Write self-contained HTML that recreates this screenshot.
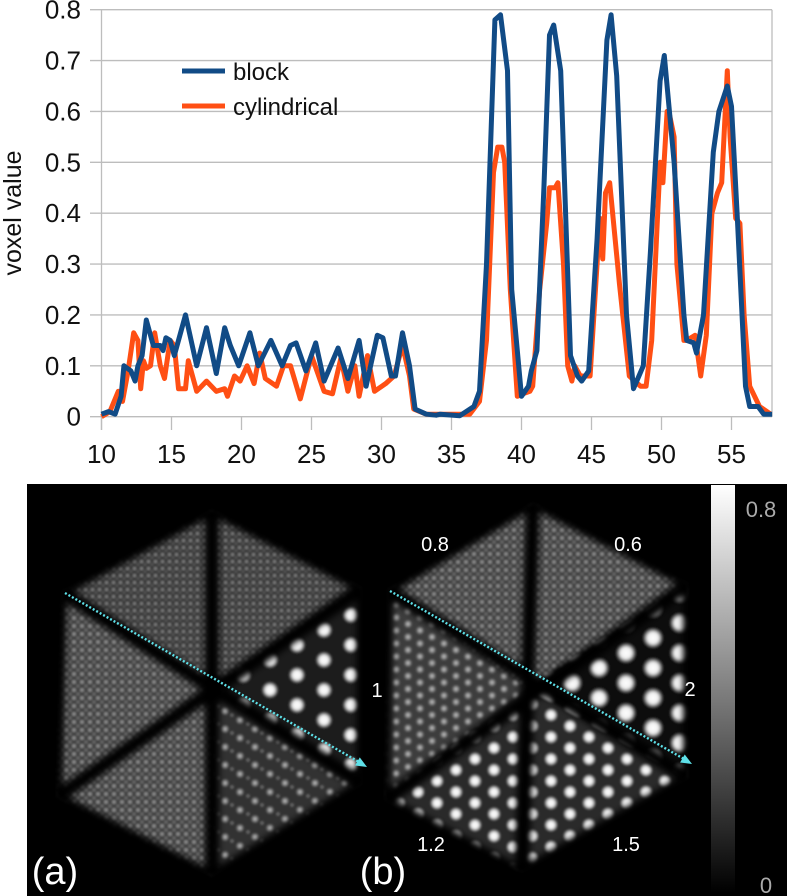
<!DOCTYPE html>
<html><head><meta charset="utf-8"><style>
html,body{margin:0;padding:0;background:#fff;width:787px;height:896px;overflow:hidden}
svg{display:block}
text{font-family:"Liberation Sans",sans-serif}
</style></head><body>
<svg id="fig" width="787" height="896" viewBox="0 0 787 896">
<defs>
 <radialGradient id="rg"><stop offset="0" stop-color="#fff"/><stop offset="0.55" stop-color="#eee"/><stop offset="1" stop-color="#fff" stop-opacity="0"/></radialGradient>
 <radialGradient id="rg2"><stop offset="0" stop-color="#ddd"/><stop offset="1" stop-color="#ddd" stop-opacity="0"/></radialGradient>
 <pattern id="pNoise" patternUnits="userSpaceOnUse" width="7" height="7">
  <rect width="7" height="7" fill="#333"/><circle cx="1.5" cy="1.5" r="1.6" fill="#8a8a8a"/><circle cx="5" cy="4.5" r="1.3" fill="#666"/>
 </pattern>
 <pattern id="pNoise2" patternUnits="userSpaceOnUse" width="8" height="8">
  <rect width="8" height="8" fill="#3e3e3e"/><circle cx="2" cy="2" r="1.8" fill="#9a9a9a"/><circle cx="6" cy="6" r="1.5" fill="#777"/>
 </pattern>
 <pattern id="pBigA" patternUnits="userSpaceOnUse" width="54" height="30">
  <rect width="54" height="30" fill="#1a1a1a"/>
  <circle cx="0" cy="0" r="8" fill="url(#rg)"/><circle cx="54" cy="0" r="8" fill="url(#rg)"/><circle cx="0" cy="30" r="8" fill="url(#rg)"/><circle cx="54" cy="30" r="8" fill="url(#rg)"/><circle cx="27" cy="15" r="8" fill="url(#rg)"/>
 </pattern>
 <pattern id="pBigB" patternUnits="userSpaceOnUse" width="54" height="30" x="5" y="8">
  <rect width="54" height="30" fill="#111"/>
  <circle cx="0" cy="0" r="10" fill="url(#rg)"/><circle cx="54" cy="0" r="10" fill="url(#rg)"/><circle cx="0" cy="30" r="10" fill="url(#rg)"/><circle cx="54" cy="30" r="10" fill="url(#rg)"/><circle cx="27" cy="15" r="10" fill="url(#rg)"/>
 </pattern>
 <pattern id="pMidA" patternUnits="userSpaceOnUse" width="30" height="18">
  <rect width="30" height="18" fill="#333"/><circle cx="0" cy="0" r="4" fill="url(#rg2)"/><circle cx="30" cy="0" r="4" fill="url(#rg2)"/><circle cx="0" cy="18" r="4" fill="url(#rg2)"/><circle cx="30" cy="18" r="4" fill="url(#rg2)"/><circle cx="15" cy="9" r="4" fill="url(#rg2)"/>
  <circle cx="8" cy="4" r="1.2" fill="#888"/><circle cx="22" cy="13" r="1.2" fill="#888"/>
 </pattern>
 <pattern id="pMidB" patternUnits="userSpaceOnUse" width="38" height="22">
  <rect width="38" height="22" fill="#2a2a2a"/><circle cx="0" cy="0" r="6.5" fill="url(#rg)"/><circle cx="38" cy="0" r="6.5" fill="url(#rg)"/><circle cx="0" cy="22" r="6.5" fill="url(#rg)"/><circle cx="38" cy="22" r="6.5" fill="url(#rg)"/><circle cx="19" cy="11" r="6.5" fill="url(#rg)"/>
 </pattern>
 <pattern id="pSmallB" patternUnits="userSpaceOnUse" width="24" height="13">
  <rect width="24" height="13" fill="#3c3c3c"/><circle cx="0" cy="0" r="4" fill="url(#rg2)"/><circle cx="24" cy="0" r="4" fill="url(#rg2)"/><circle cx="0" cy="13" r="4" fill="url(#rg2)"/><circle cx="24" cy="13" r="4" fill="url(#rg2)"/><circle cx="12" cy="6.5" r="4" fill="url(#rg2)"/>
 </pattern>
 <filter id="soft" x="-5%" y="-5%" width="110%" height="110%"><feGaussianBlur stdDeviation="1.2"/></filter>
 <filter id="gapblur" x="-10%" y="-10%" width="120%" height="120%"><feGaussianBlur stdDeviation="3.5"/></filter>
 <linearGradient id="cbar" x1="0" y1="0" x2="0" y2="1"><stop offset="0" stop-color="#fff"/><stop offset="1" stop-color="#000"/></linearGradient>
</defs>
<g id="chart"></g>
<g id="images"></g>
</svg>
<script>
const ticksY = [0, 0.1, 0.2, 0.3, 0.4, 0.5, 0.6, 0.7, 0.8];
const ticksX = [10, 15, 20, 25, 30, 35, 40, 45, 50, 55];
const blockX = [10,10.5,10.97,11.4,11.6,12.1,12.4,12.6,12.9,13.2,13.7,14.2,14.4,14.6,14.9,15.2,16.0,16.8,17.5,18.2,18.8,19.2,19.8,20.6,21.2,22.1,22.9,23.5,23.9,24.6,25.3,25.9,26.9,27.6,28.4,28.9,29.7,30.1,30.7,31.0,31.5,32.0,32.4,33.2,33.9,34.2,35.6,36.6,37.0,37.5,38.1,38.5,39.0,39.3,40.0,40.5,40.7,41.1,41.6,42.0,42.3,42.8,43.5,44.0,44.3,44.8,45.4,46.1,46.4,46.8,47.5,48.0,48.7,49.2,49.9,50.2,50.9,51.6,51.8,52.3,52.5,53.0,53.7,54.1,54.7,55.0,55.4,56.0,56.3,56.9,57.3,57.9];
const blockV = [0.005,0.01,0.005,0.04,0.1,0.09,0.07,0.1,0.12,0.19,0.14,0.14,0.13,0.155,0.15,0.12,0.2,0.1,0.175,0.085,0.175,0.14,0.1,0.165,0.1,0.15,0.1,0.14,0.145,0.09,0.145,0.07,0.135,0.075,0.15,0.06,0.16,0.155,0.08,0.08,0.165,0.1,0.015,0.005,0.003,0.005,0.002,0.02,0.05,0.3,0.78,0.79,0.68,0.25,0.04,0.06,0.09,0.13,0.45,0.75,0.77,0.68,0.12,0.08,0.07,0.09,0.35,0.74,0.79,0.67,0.2,0.055,0.1,0.32,0.66,0.71,0.5,0.2,0.15,0.145,0.125,0.2,0.52,0.6,0.65,0.61,0.4,0.06,0.02,0.02,0.005,0.005];
const cylX = [10,10.6,11.2,11.5,11.9,12.3,12.6,12.8,13.0,13.2,13.5,13.8,14.2,14.5,14.9,15.2,15.5,16.0,16.2,16.8,17.5,18.2,18.8,19.0,19.5,19.9,20.4,20.9,21.3,21.7,22.5,23.0,23.5,24.2,25.0,25.9,26.5,27.1,27.6,28.1,28.4,29.0,29.5,30.3,30.9,31.5,32.0,32.3,33.2,36.3,37.0,37.5,38.0,38.3,38.6,38.8,39.2,39.7,40.1,40.6,40.8,41.3,41.8,42.0,42.4,42.6,43.0,43.3,43.6,43.8,44.2,44.9,45.6,45.8,46.0,46.3,47.0,47.7,48.5,48.9,49.3,49.9,50.1,50.4,50.6,50.9,51.1,51.6,51.8,52.4,52.8,53.2,53.6,54.0,54.3,54.7,54.9,55.3,55.6,55.9,56.3,57.0,57.8];
const cylV = [0,0.01,0.05,0.03,0.09,0.165,0.15,0.055,0.11,0.095,0.1,0.165,0.1,0.075,0.15,0.14,0.055,0.055,0.11,0.05,0.07,0.05,0.055,0.04,0.08,0.07,0.1,0.065,0.125,0.075,0.06,0.1,0.1,0.035,0.12,0.05,0.045,0.115,0.05,0.1,0.04,0.12,0.05,0.065,0.08,0.14,0.08,0.015,0.005,0.005,0.03,0.15,0.48,0.53,0.53,0.5,0.25,0.04,0.045,0.05,0.06,0.25,0.38,0.45,0.45,0.46,0.3,0.1,0.07,0.1,0.08,0.08,0.39,0.31,0.44,0.46,0.26,0.08,0.06,0.06,0.15,0.5,0.46,0.6,0.59,0.55,0.3,0.15,0.15,0.16,0.08,0.16,0.4,0.44,0.46,0.68,0.55,0.39,0.38,0.2,0.06,0.02,0.005];

const NS='http://www.w3.org/2000/svg';
function X(v){return 101.5+(v-10)*14;}
function Y(v){return 416.7-v*508.75;}
function mk(tag,attrs,parent,txt){const e=document.createElementNS(NS,tag);for(const k in attrs)e.setAttribute(k,attrs[k]);if(txt!==undefined)e.textContent=txt;parent.appendChild(e);return e;}
const chart=document.getElementById('chart');

ticksY.forEach(t=>{
 const g=mk('line',{x1:90,x2:772,y1:Y(t),y2:Y(t),stroke:'#bdbdbd','stroke-width':1.3},chart);
 
 
 const l=mk('text',{x:81,y:Y(t)+9,'text-anchor':'end','font-size':26,fill:'#111'},chart,String(t));
 
 
});
const yax=mk('line',{x1:X(10),x2:X(10),y1:Y(0.8),y2:430,stroke:'#bdbdbd','stroke-width':1.3},chart);


const rb=mk('line',{x1:772,x2:772,y1:Y(0.8),y2:Y(0),stroke:'#bdbdbd','stroke-width':1.3},chart);


ticksX.forEach(t=>{
 const tk=mk('line',{x1:X(t),x2:X(t),y1:Y(0),y2:430,stroke:'#bdbdbd','stroke-width':1.3},chart);
 
 
 const l=mk('text',{x:X(t),y:463,'text-anchor':'middle','font-size':26,fill:'#111'},chart,String(t));
 
 
});
const yt=mk('text',{x:0,y:0,transform:'translate(21,213) rotate(-90)','text-anchor':'middle','font-size':25,fill:'#111'},chart,'voxel value');



function series(xs,vs,color,name){
 const d=xs.map((x,i)=>(i?'L':'M')+X(x).toFixed(1)+' '+Y(vs[i]).toFixed(1)).join(' ');
 const p=mk('path',{d:d,fill:'none',stroke:color,'stroke-width':5,'stroke-linejoin':'round'},chart);
 
 
}
series(cylX,cylV,'#ff4f14','cylindrical-series');
series(blockX,blockV,'#114b86','block-series');

const lg=mk('g',{},chart);


const l1=mk('line',{x1:182,x2:225,y1:71,y2:71,stroke:'#114b86','stroke-width':5},lg);


const t1=mk('text',{x:233,y:80,'font-size':24,fill:'#111'},lg,'block');


const l2=mk('line',{x1:182,x2:225,y1:106,y2:106,stroke:'#ff4f14','stroke-width':5},lg);


const t2=mk('text',{x:233,y:115,'font-size':24,fill:'#111'},lg,'cylindrical');



const im=document.getElementById('images');
const bg=mk('rect',{x:27,y:484,width:760,height:412,fill:'#000'},im);


function hexPanel(V,C,fills,name){
 const g=mk('g',{filter:'url(#soft)'},im);
 
 
 for(let i=0;i<6;i++){
  const a=V[i],b=V[(i+1)%6];
  const p=mk('polygon',{points:`${C[0]},${C[1]} ${a[0]},${a[1]} ${b[0]},${b[1]}`,fill:fills[i]},g);
  
  
 }
 const gg=mk('g',{filter:'url(#gapblur)'},im);
 
 
 for(let i=0;i<3;i++){
  const a=V[i],b=V[i+3];
  mk('line',{x1:a[0],y1:a[1],x2:b[0],y2:b[1],stroke:'#000','stroke-width':14},gg);
 }
 mk('polygon',{points:V.map(v=>v.join(',')).join(' '),fill:'none',stroke:'#000','stroke-width':10},gg);
}
hexPanel([[212,510],[362,588],[362,784],[212,876],[57,797],[62,592]],[211,688],
 ['url(#pNoise)','url(#pBigA)','url(#pMidA)','url(#pNoise2)','url(#pNoise2)','url(#pNoise)'],'panel-a-hexagon');
hexPanel([[533,503],[688,584],[688,778],[522,872],[385,800],[388,590]],[527,688],
 ['url(#pNoise2)','url(#pBigB)','url(#pMidB)','url(#pMidB)','url(#pSmallB)','url(#pNoise2)'],'panel-b-hexagon');

function arrow(x1,y1,x2,y2,name){
 const g=mk('g',{},im);
 
 
 mk('line',{x1:x1,y1:y1,x2:x2-8,y2:y2-5,stroke:'#5ee0e8','stroke-width':2.4,'stroke-dasharray':'2 2'},g);
 const ang=Math.atan2(y2-y1,x2-x1);
 const p1=[x2-12*Math.cos(ang-0.4),y2-12*Math.sin(ang-0.4)],p2=[x2-12*Math.cos(ang+0.4),y2-12*Math.sin(ang+0.4)];
 mk('polygon',{points:`${x2},${y2} ${p1} ${p2}`,fill:'#5ee0e8'},g);
}
arrow(65,593,367,767,'profile-arrow-a');
arrow(390,591,692,764,'profile-arrow-b');

const cb=mk('rect',{x:711,y:485,width:24,height:408,fill:'url(#cbar)'},im);


const labels=[['0.8',435,551,20,'#fff','middle'],['0.6',628,551,20,'#fff','middle'],['1',377,697,20,'#fff','middle'],['2',690,696,20,'#fff','middle'],['1.2',431,851,20,'#fff','middle'],['1.5',626,851,20,'#fff','middle'],['(a)',55,884,38,'#fff','middle'],['(b)',383,884,38,'#fff','middle'],['0.8',761,517,22,'#aaa','middle'],['0',766,893,22,'#aaa','middle']];
labels.forEach(l=>{
 const t=mk('text',{x:l[1],y:l[2],'font-size':l[3],fill:l[4],'text-anchor':l[5]},im,l[0]);
 
 
});
</script>
</body></html>
